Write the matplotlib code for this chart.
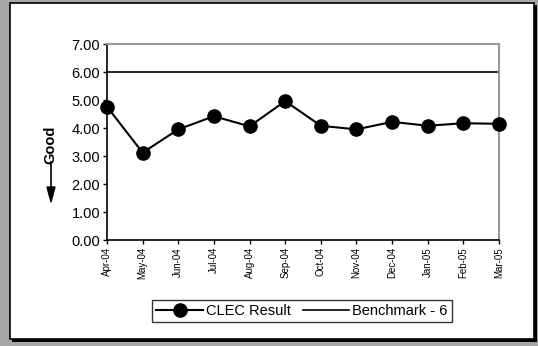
import matplotlib.pyplot as plt
from matplotlib.patches import Rectangle

plt.rcParams['font.family'] = ['Liberation Sans', 'DejaVu Sans']

months = ["Apr-04", "May-04", "Jun-04", "Jul-04", "Aug-04", "Sep-04",
          "Oct-04", "Nov-04", "Dec-04", "Jan-05", "Feb-05", "Mar-05"]
clec_result = [4.76, 3.12, 3.95, 4.42, 4.06, 4.96, 4.08, 3.95, 4.22, 4.08, 4.17, 4.15]
benchmark = [6.0] * len(months)
y_ticks = [0, 1, 2, 3, 4, 5, 6, 7]

W, H = 538, 346
fig = plt.figure(figsize=(W / 100, H / 100), dpi=100)
fig.patch.set_facecolor("#a6a6a6")

# white panel with dark shadow on right/bottom
fig.patches.append(Rectangle((12 / W, 1 - 342 / H), 525 / W, 337 / H,
                             transform=fig.transFigure, facecolor="black",
                             edgecolor="none", zorder=-3))
fig.patches.append(Rectangle((10 / W, 1 - 339 / H), 524 / W, 336 / H,
                             transform=fig.transFigure, facecolor="white",
                             edgecolor="black", linewidth=1.2, zorder=-2))

ax = fig.add_axes([107 / W, 1 - 240 / H, (499 - 107) / W, (240 - 44) / H])
ax.set_facecolor("white")
x = list(range(len(months)))
ax.plot(x, clec_result, color="black", lw=1.5, marker="o", markersize=9.5,
        label="CLEC Result", clip_on=False, zorder=3)
ax.plot(x, benchmark, color="black", lw=1.2, label="Benchmark - 6")

ax.set_xlim(0, len(months) - 1)
ax.set_ylim(0, 7)
ax.set_yticks(y_ticks)
ax.set_yticklabels([f"{v:.2f}" for v in y_ticks], fontsize=10.5)
ax.set_xticks(x)
ax.set_xticklabels(months, rotation=90, fontsize=7)
ax.tick_params(axis="both", direction="out", length=3, width=1, pad=2)

for s in ["left", "bottom"]:
    ax.spines[s].set_color("black")
    ax.spines[s].set_linewidth(1.2)
for s in ["top", "right"]:
    ax.spines[s].set_color("#999999")
    ax.spines[s].set_linewidth(1.5)

# "Good" label with downward arrow
fig.text(50 / W, 1 - 145 / H, "Good", rotation=90, fontsize=10.5,
         fontweight="bold", ha="center", va="center")
fig.add_artist(plt.Line2D([51 / W, 51 / W], [1 - 162 / H, 1 - 190 / H],
                          transform=fig.transFigure, color="black", lw=1.2))
fig.add_artist(plt.Polygon([[47 / W, 1 - 187 / H], [55 / W, 1 - 187 / H],
                            [51 / W, 1 - 202 / H]], closed=True,
                           transform=fig.transFigure, color="black"))

leg = fig.legend(loc="center", bbox_to_anchor=(302 / W, 1 - 311 / H),
                 ncol=2, fontsize=10.5, frameon=True, fancybox=False,
                 edgecolor="black", handlelength=3.2, columnspacing=0.8,
                 handletextpad=0.2, borderpad=0.3)
leg.get_frame().set_linewidth(1.0)

plt.savefig("out.png", dpi=100, facecolor=fig.get_facecolor())
